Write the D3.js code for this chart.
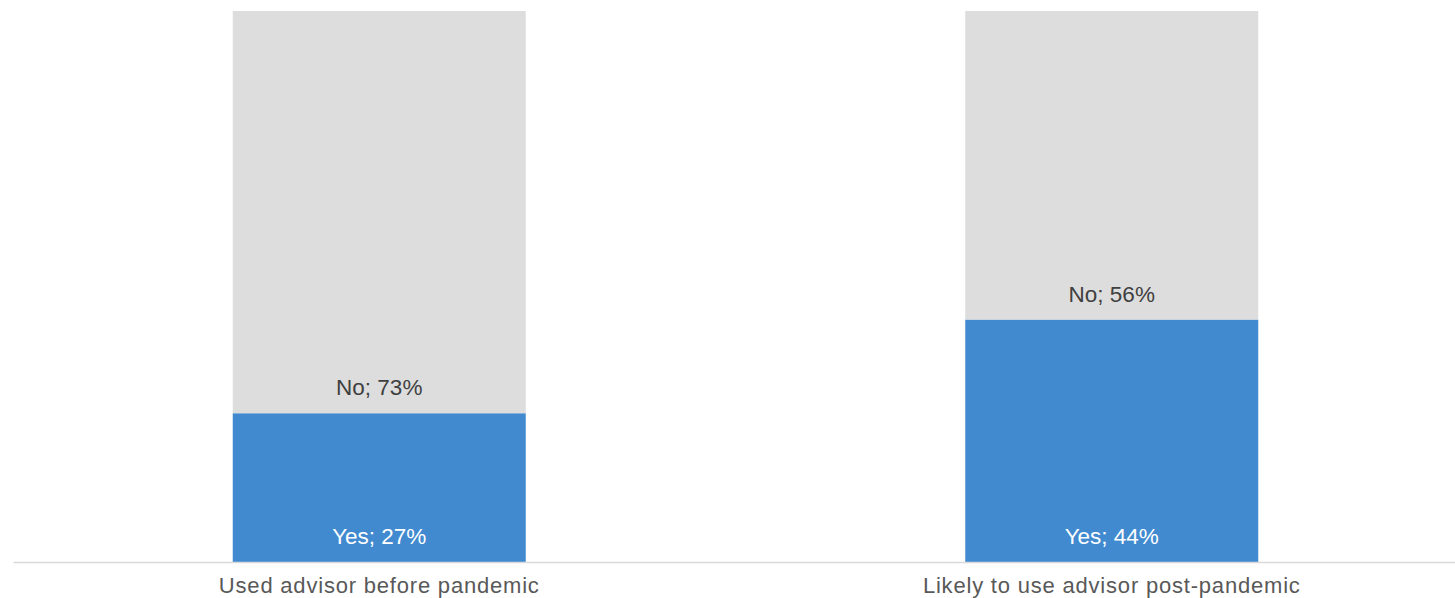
<!DOCTYPE html>
<html><head><meta charset="utf-8">
<script src="https://cdn.jsdelivr.net/npm/d3@7"></script>
<style>body{margin:0;background:#fff;overflow:hidden}</style>
</head><body>
<svg id="c" width="1455" height="598"></svg>
<script>
const categories = ["Used advisor before pandemic", "Likely to use advisor post-pandemic"];
const seriesNames = ["Yes", "No"];
const yesValues = [27, 44];
const noValues = [73, 56];
const colors = ["#418AD0", "#DDDDDD"];
const labelColors = ["#FFFFFF", "#404040"];

(function () {
const svg = d3.select("#c");
const mLeft = 13, mRight = 1478, mTop = 11, mBottom = 562;

const rows = categories.map((c, i) => ({cat: c, Yes: yesValues[i], No: noValues[i]}));
const stack = d3.stack().keys(seriesNames)(rows);

const x = d3.scaleBand().domain(categories).range([mLeft, mRight]).paddingInner(0.6).paddingOuter(0.3);
const y = d3.scaleLinear().domain([0, 100]).range([mBottom, mTop]);

stack.forEach((s, si) => {
  svg.append("g").selectAll("rect").data(s).join("rect")
    .attr("x", d => x(d.data.cat))
    .attr("width", x.bandwidth())
    .attr("y", d => y(d[1]))
    .attr("height", d => y(d[0]) - y(d[1]))
    .attr("fill", colors[si]);
  svg.append("g").selectAll("text").data(s).join("text")
    .attr("x", d => x(d.data.cat) + x.bandwidth() / 2)
    .attr("y", d => y(d[0]) - 18)
    .attr("text-anchor", "middle")
    .attr("font-family", "Liberation Sans, Arial, sans-serif")
    .attr("font-size", 22.5)
    .attr("fill", labelColors[si])
    .text(d => `${s.key}; ${d.data[s.key]}%`);
});

const axis = svg.append("g").attr("transform", `translate(0,${mBottom})`)
  .call(d3.axisBottom(x).tickSize(0).tickPadding(15));
axis.select(".domain").attr("stroke", "#D9D9D9").attr("stroke-width", 1.5);
axis.selectAll("text").attr("font-family", "Liberation Sans, Arial, sans-serif")
  .attr("font-size", 22).attr("fill", "#595959").attr("dy", "0.71em")
  .attr("letter-spacing", "0.8px");
})();
</script>
</body></html>
